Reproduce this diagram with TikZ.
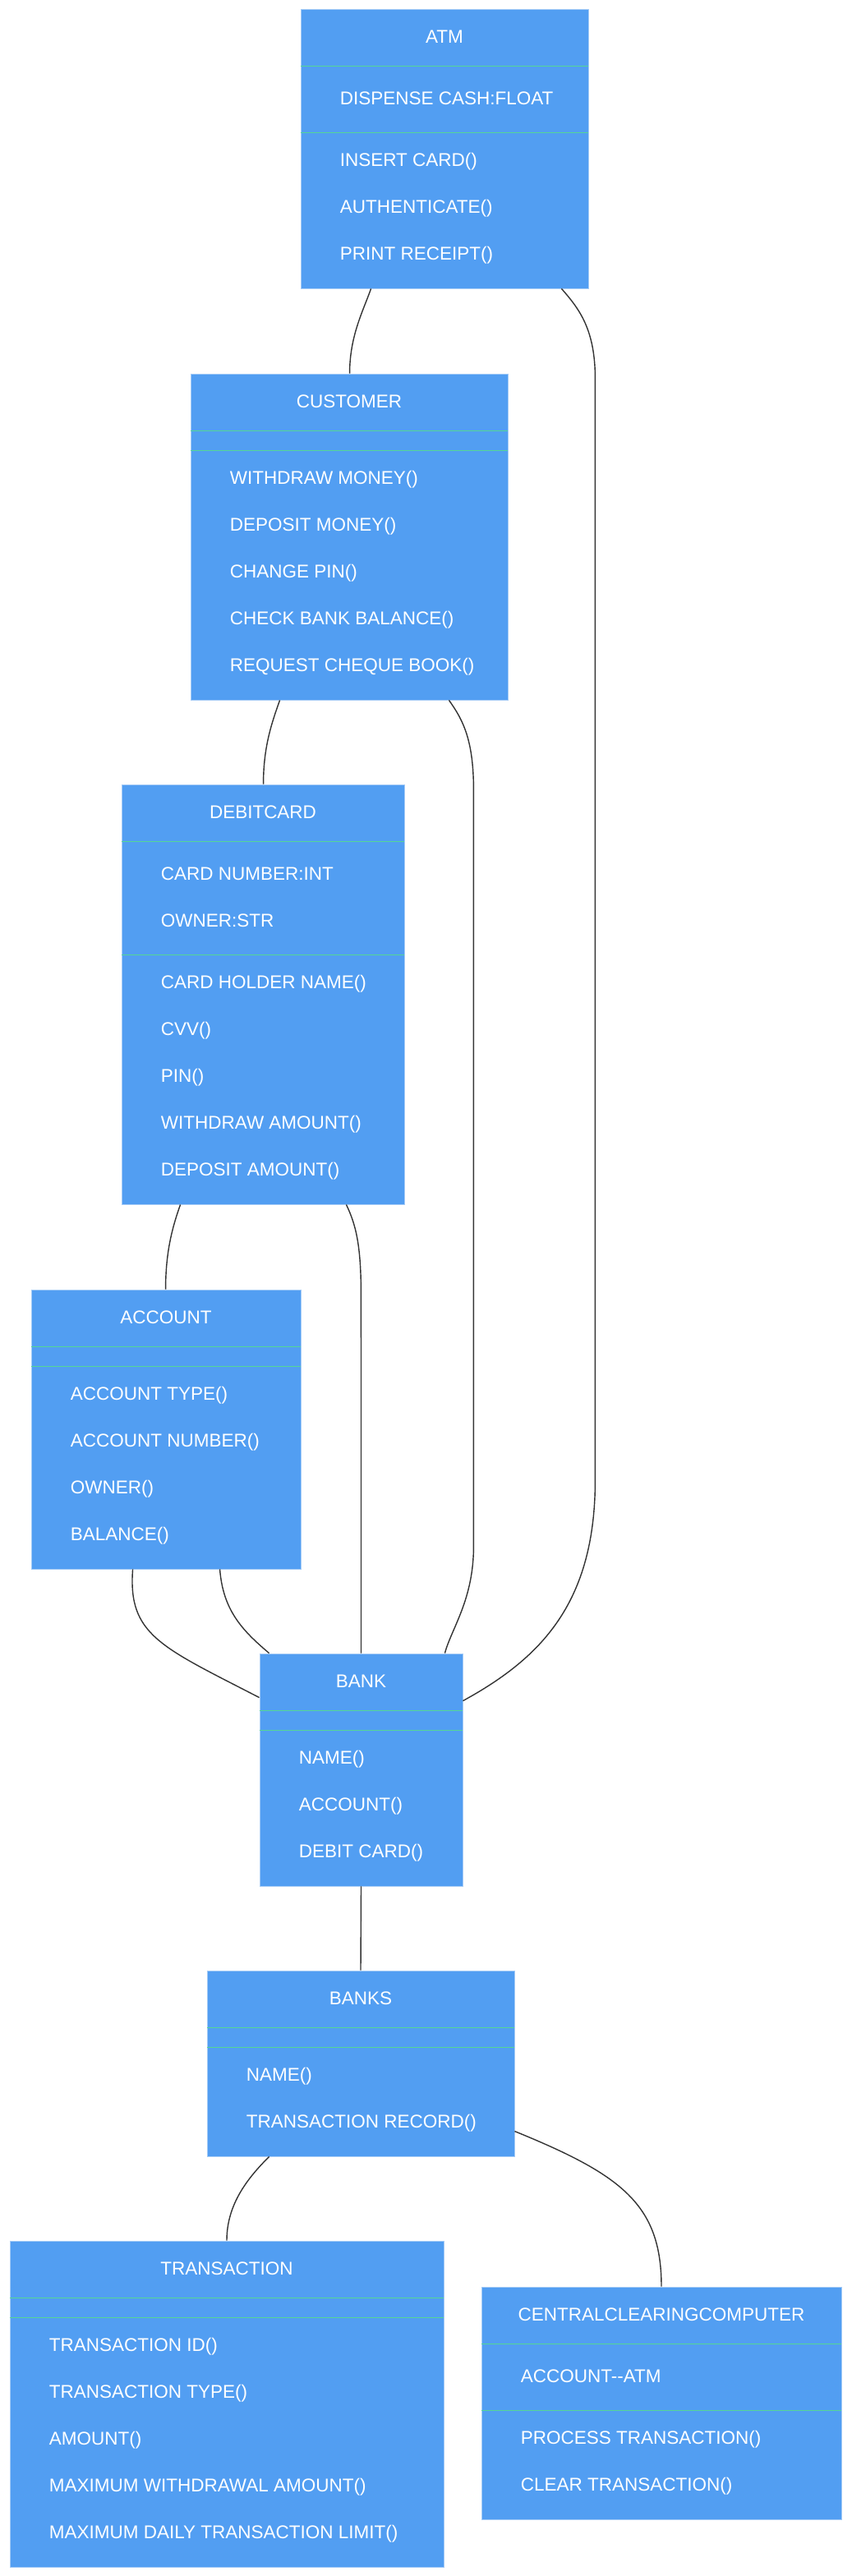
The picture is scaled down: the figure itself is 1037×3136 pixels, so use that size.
\documentclass[tikz,border=0pt]{standalone}
\usepackage{fontspec}
\setmainfont{Liberation Sans}
\usetikzlibrary{positioning, calc, fit}
\definecolor{classblue}{RGB}{82,158,242}
\definecolor{classedge}{RGB}{165,203,246}
\definecolor{dividergreen}{RGB}{84,214,150}
\definecolor{linkgray}{RGB}{51,51,51}

\begin{document}
\begin{tikzpicture}[
        x=0.02cm, y=-0.02cm,
        every node/.style={font=\fontsize{12.8}{15}\selectfont, text=white},
        classbox/.style={rectangle, draw=classedge, fill=classblue, line width=0.5pt, inner sep=0pt},
        ctitle/.style={anchor=center, inner sep=0pt},
        member/.style={anchor=west, inner sep=0pt},
        divider/.style={draw=dividergreen, line width=0.8pt},
        link/.style={draw=linkgray, line width=0.8pt}
    ]
        \useasboundingbox (0,0) rectangle (1037,3136);

        % Class boxes placed with explicit corners (pixel grid)
        \node [classbox, fit={(366,11) (716,351)}] (atm) {};
        \node [classbox, fit={(232,455) (618,852)}] (customer) {};
        \node [classbox, fit={(148,955) (492,1466)}] (debit) {};
        \node [classbox, fit={(38,1570) (366,1910)}] (account) {};
        \node [classbox, fit={(316,2013) (563,2296)}] (bank) {};
        \node [classbox, fit={(252,2399) (626,2625)}] (banks) {};
        \node [classbox, fit={(12,2728) (540,3125)}] (trans) {};
        \node [classbox, fit={(586,2784) (1024,3067)}] (ccc) {};

        % ATM
        \node [ctitle] (atm-t) at ($(atm.north)+(0,34)$) {ATM};
        \draw[divider] ($(atm.north west)+(0,70)$) -- ($(atm.north east)+(0,70)$);
        \node [member] (atm-a0) at ($(atm.north west)+(48,109)$) {DISPENSE CASH:FLOAT};
        \draw[divider] ($(atm.north west)+(0,151)$) -- ($(atm.north east)+(0,151)$);
        \foreach \m [count=\i from 0] in {INSERT CARD(), AUTHENTICATE(), PRINT RECEIPT()}
            \node [member] (atm-m\i) at ($(atm.north west)+(48,{186+57*\i})$) {\m};

        % CUSTOMER
        \node [ctitle] (customer-t) at ($(customer.north)+(0,34)$) {CUSTOMER};
        \draw[divider] ($(customer.north west)+(0,70)$) -- ($(customer.north east)+(0,70)$);
        \draw[divider] ($(customer.north west)+(0,94)$) -- ($(customer.north east)+(0,94)$);
        \foreach \m [count=\i from 0] in {WITHDRAW MONEY(), DEPOSIT MONEY(), CHANGE PIN(),
                CHECK BANK BALANCE(), REQUEST CHEQUE BOOK()}
            \node [member] (customer-m\i) at ($(customer.north west)+(48,{129+57*\i})$) {\m};

        % DEBITCARD
        \node [ctitle] (debit-t) at ($(debit.north)+(0,34)$) {DEBITCARD};
        \draw[divider] ($(debit.north west)+(0,70)$) -- ($(debit.north east)+(0,70)$);
        \foreach \m [count=\i from 0] in {CARD NUMBER:INT, OWNER:STR}
            \node [member] (debit-a\i) at ($(debit.north west)+(48,{109+57*\i})$) {\m};
        \draw[divider] ($(debit.north west)+(0,208)$) -- ($(debit.north east)+(0,208)$);
        \foreach \m [count=\i from 0] in {CARD HOLDER NAME(), CVV(), PIN(),
                WITHDRAW AMOUNT(), DEPOSIT AMOUNT()}
            \node [member] (debit-m\i) at ($(debit.north west)+(48,{243+57*\i})$) {\m};

        % ACCOUNT
        \node [ctitle] (account-t) at ($(account.north)+(0,34)$) {ACCOUNT};
        \draw[divider] ($(account.north west)+(0,70)$) -- ($(account.north east)+(0,70)$);
        \draw[divider] ($(account.north west)+(0,94)$) -- ($(account.north east)+(0,94)$);
        \foreach \m [count=\i from 0] in {ACCOUNT TYPE(), ACCOUNT NUMBER(), OWNER(), BALANCE()}
            \node [member] (account-m\i) at ($(account.north west)+(48,{129+57*\i})$) {\m};

        % BANK
        \node [ctitle] (bank-t) at ($(bank.north)+(0,34)$) {BANK};
        \draw[divider] ($(bank.north west)+(0,70)$) -- ($(bank.north east)+(0,70)$);
        \draw[divider] ($(bank.north west)+(0,94)$) -- ($(bank.north east)+(0,94)$);
        \foreach \m [count=\i from 0] in {NAME(), ACCOUNT(), DEBIT CARD()}
            \node [member] (bank-m\i) at ($(bank.north west)+(48,{129+57*\i})$) {\m};

        % BANKS
        \node [ctitle] (banks-t) at ($(banks.north)+(0,34)$) {BANKS};
        \draw[divider] ($(banks.north west)+(0,70)$) -- ($(banks.north east)+(0,70)$);
        \draw[divider] ($(banks.north west)+(0,94)$) -- ($(banks.north east)+(0,94)$);
        \foreach \m [count=\i from 0] in {NAME(), TRANSACTION RECORD()}
            \node [member] (banks-m\i) at ($(banks.north west)+(48,{129+57*\i})$) {\m};

        % TRANSACTION
        \node [ctitle] (trans-t) at ($(trans.north)+(0,34)$) {TRANSACTION};
        \draw[divider] ($(trans.north west)+(0,70)$) -- ($(trans.north east)+(0,70)$);
        \draw[divider] ($(trans.north west)+(0,94)$) -- ($(trans.north east)+(0,94)$);
        \foreach \m [count=\i from 0] in {TRANSACTION ID(), TRANSACTION TYPE(), AMOUNT(),
                MAXIMUM WITHDRAWAL AMOUNT(), MAXIMUM DAILY TRANSACTION LIMIT()}
            \node [member] (trans-m\i) at ($(trans.north west)+(48,{129+57*\i})$) {\m};

        % CENTRALCLEARINGCOMPUTER
        \node [ctitle] (ccc-t) at ($(ccc.north)+(0,34)$) {CENTRALCLEARINGCOMPUTER};
        \draw[divider] ($(ccc.north west)+(0,70)$) -- ($(ccc.north east)+(0,70)$);
        \node [member] (ccc-a0) at ($(ccc.north west)+(48,109)$) {ACCOUNT-{}-ATM};
        \draw[divider] ($(ccc.north west)+(0,151)$) -- ($(ccc.north east)+(0,151)$);
        \foreach \m [count=\i from 0] in {PROCESS TRANSACTION(), CLEAR TRANSACTION()}
            \node [member] (ccc-m\i) at ($(ccc.north west)+(48,{186+57*\i})$) {\m};

        % ATM links
        \draw[link] ($(atm.south west)+(86,0)$) .. controls +(-10,28) and +(0,-45) ..
            ($(customer.north west)+(194,0)$);
        \draw[link] ($(atm.south east)+(-33,0)$) .. controls +(22,25) and +(0,-60) .. ++(41,110)
            -- ++(0,1340) .. controls +(0,150) and +(95,-52) .. ($(bank.north east)+(0,58)$);

        % CUSTOMER links
        \draw[link] ($(customer.south west)+(109,0)$) .. controls +(-10,28) and +(0,-45) ..
            ($(debit.north west)+(173,0)$);
        \draw[link] ($(customer.south east)+(-72,0)$) .. controls +(18,25) and +(0,-60) .. ++(30,110)
            -- ++(0,920) .. controls +(0,65) and +(8,-30) .. ($(bank.north east)+(-22,0)$);

        % DEBITCARD links
        \draw[link] ($(debit.south west)+(72,0)$) .. controls +(-10,28) and +(0,-45) ..
            ($(account.north west)+(164,0)$);
        \draw[link] ($(debit.south east)+(-71,0)$) .. controls +(12,25) and +(0,-60) .. ++(18,110)
            -- (bank.north);

        % ACCOUNT links
        \draw[link] ($(account.south west)+(124,0)$) .. controls +(-6,80) and +(-120,-62) ..
            ($(bank.north west)+(0,54)$);
        \draw[link] ($(account.south west)+(230,0)$) .. controls +(4,50) and +(-33,-28) ..
            ($(bank.north west)+(12,0)$);

        % BANK / BANKS links
        \draw[link] (bank.south) -- (banks.north);
        \draw[link] ($(banks.south west)+(76,0)$) .. controls +(-25,25) and +(0,-45) .. (trans.north);
        \draw[link] ($(banks.north east)+(0,196)$) .. controls +(130,53) and +(0,-100) .. (ccc.north);
    \end{tikzpicture}
\end{document}
